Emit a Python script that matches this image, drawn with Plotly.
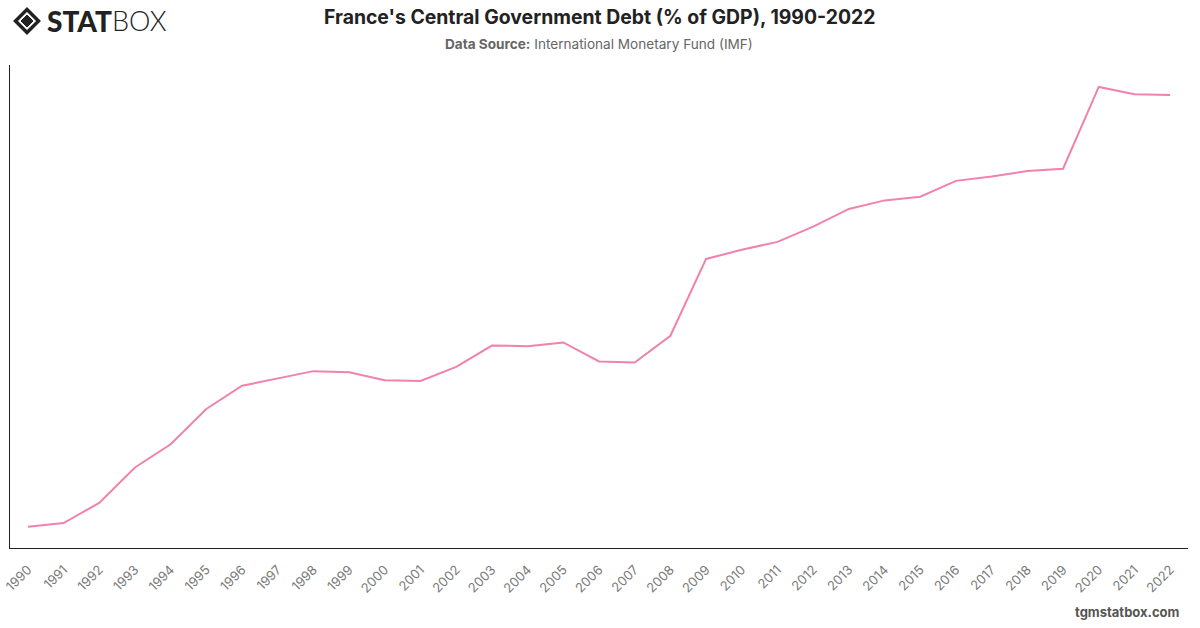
import plotly.graph_objects as go

years = [str(y) for y in range(1990, 2023)]
debt_pct_gdp = [28.5, 29.1, 32.4, 38.2, 42.0, 47.8, 51.6, 52.8, 54.0, 53.8,
                52.5, 52.4, 54.7, 58.2, 58.1, 58.7, 55.6, 55.4, 59.8, 72.4,
                73.9, 75.2, 77.7, 80.6, 82.0, 82.6, 85.2, 85.9, 86.8, 87.2,
                100.6, 99.4, 99.3]

title_text = "France's Central Government Debt (% of GDP), 1990-2022"
source_label = "Data Source:"
source_text = "International Monetary Fund (IMF)"
footer_text = "tgmstatbox.com"

FONT = "Inter, Roboto, 'Open Sans', sans-serif"

fig = go.Figure()
fig.add_trace(go.Scatter(
    x=years, y=debt_pct_gdp, mode="lines",
    line=dict(color="#f082ab", width=2),
    hoverinfo="x+y", showlegend=False,
))

fig.update_layout(
    width=1200, height=628,
    margin=dict(l=10, r=12, t=65, b=80),
    paper_bgcolor="white", plot_bgcolor="white",
    font=dict(family=FONT, color="#666"),
    xaxis=dict(
        type="category", range=[-0.5, 32.5], fixedrange=True, automargin=False,
        showline=True, linecolor="#222", linewidth=1,
        showgrid=False, zeroline=False, ticks="",
        tickangle=-45, ticklabelstandoff=8,
        tickfont=dict(size=13, color="#7a7a7a", family=FONT),
    ),
    yaxis=dict(
        range=[25, 104.2], fixedrange=True, automargin=False,
        showline=True, linecolor="#222", linewidth=1,
        showgrid=False, zeroline=False, showticklabels=False, ticks="",
    ),
)

plot_left, plot_right = 10, 1188
plot_top, plot_bottom = 65, 548
pw = plot_right - plot_left
ph = plot_bottom - plot_top
def px(pix):
    return (pix - plot_left) / pw
def py(pix):
    return (plot_bottom - pix) / ph

fig.add_annotation(text="<b>" + title_text + "</b>", x=0.5, y=py(17), xref="paper", yref="paper",
                   showarrow=False, font=dict(size=19.4, color="#222", family=FONT),
                   xanchor="center", yanchor="middle")
fig.add_annotation(text="<b>" + source_label + "</b> " + source_text, x=0.5, y=py(44),
                   xref="paper", yref="paper", showarrow=False,
                   font=dict(size=13.6, color="#666", family=FONT),
                   xanchor="center", yanchor="middle")
fig.add_annotation(text="<b>" + footer_text + "</b>", x=px(1182), y=py(612), xref="paper", yref="paper",
                   showarrow=False, font=dict(size=13, color="#555", family=FONT),
                   xanchor="right", yanchor="middle")

# logo
fig.add_annotation(text="STAT", x=px(114), y=py(21), xref="paper", yref="paper",
                   showarrow=False, font=dict(size=28, color="#222", family="Lato, sans-serif", weight=900),
                   xanchor="right", yanchor="middle")
fig.add_annotation(text="BOX", x=px(110), y=py(21), xref="paper", yref="paper",
                   showarrow=False, font=dict(size=27, color="#222", family="Lato, sans-serif", weight=300),
                   xanchor="left", yanchor="middle")

cx, cy = 27, 21
def diamond(r):
    return (f"M {px(cx-r)} {py(cy)} L {px(cx)} {py(cy-r)} L {px(cx+r)} {py(cy)} "
            f"L {px(cx)} {py(cy+r)} Z")
fig.add_shape(type="path", path=diamond(11.5), xref="paper", yref="paper",
              line=dict(color="#222", width=3.5), fillcolor="rgba(0,0,0,0)")
fig.add_shape(type="path", path=diamond(6), xref="paper", yref="paper",
              line=dict(color="#222", width=1), fillcolor="#222")

fig.write_html("out.html")
